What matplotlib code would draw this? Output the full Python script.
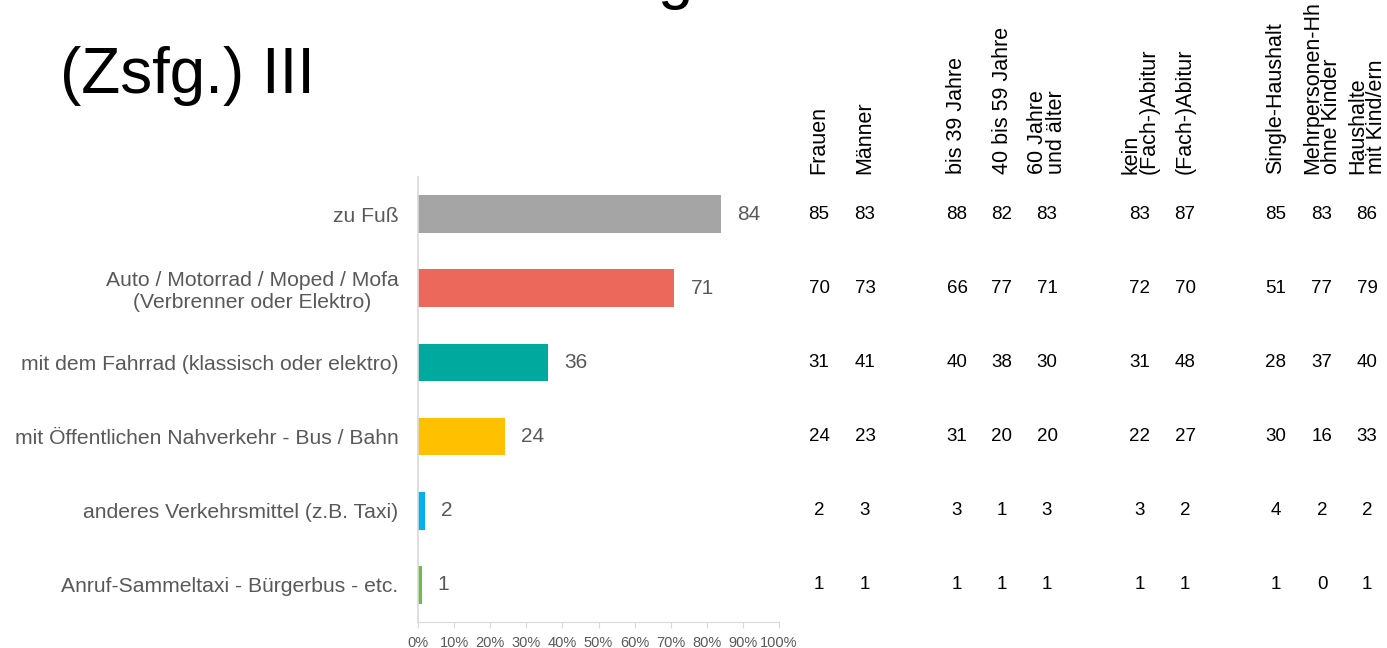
import matplotlib
matplotlib.use('Agg')
import matplotlib.pyplot as plt
import matplotlib.transforms as mtransforms

plt.rcParams['font.family'] = ['Liberation Sans', 'DejaVu Sans']

# Verkehrsmittel und Gesamtwerte in Prozent
categories = ['zu Fuß',
              'Auto / Motorrad / Moped / Mofa\n(Verbrenner oder Elektro)',
              'mit dem Fahrrad (klassisch oder elektro)',
              'mit Öffentlichen Nahverkehr - Bus / Bahn',
              'anderes Verkehrsmittel (z.B. Taxi)',
              'Anruf-Sammeltaxi - Bürgerbus - etc.']
total = [84, 71, 36, 24, 2, 1]
bar_colors = ['#A5A5A5', '#EB685B', '#00A99D', '#FFC000', '#00B0F0', '#6DBE45']

# Untergruppen (Spaltenköpfe) und ihre Werte je Verkehrsmittel
groups = ['Frauen', 'Männer',
          'bis 39 Jahre', '40 bis 59 Jahre', '60 Jahre\nund älter',
          'kein\n(Fach-)Abitur', '(Fach-)Abitur',
          'Single-Haushalt', 'Mehrpersonen-Hh\nohne Kinder', 'Haushalte\nmit Kind/ern']
frauen = [85, 70, 31, 24, 2, 1]
maenner = [83, 73, 41, 23, 3, 1]
bis39 = [88, 66, 40, 31, 3, 1]
bis59 = [82, 77, 38, 20, 1, 1]
ab60 = [83, 71, 30, 20, 3, 1]
kein_abi = [83, 72, 31, 22, 3, 1]
abi = [87, 70, 48, 27, 2, 1]
single = [85, 51, 28, 30, 4, 1]
mehr_ohne = [83, 77, 37, 16, 2, 0]
mit_kind = [86, 79, 40, 33, 2, 1]
group_values = [frauen, maenner, bis39, bis59, ab60,
                kein_abi, abi, single, mehr_ohne, mit_kind]
col_x = [819, 865, 957, 1002, 1047, 1140, 1185, 1276, 1322, 1367]

W, H = 1387, 648
fig = plt.figure(figsize=(W / 100, H / 100), dpi=100)
ax = fig.add_axes([418 / W, 1 - 622 / H, 361 / W, 445 / H])

ypos = list(range(len(categories)))
ax.barh(ypos, total, height=0.51, color=bar_colors)
ax.set_xlim(0, 100)
ax.set_ylim(len(categories) - 0.5, -0.5)

for y, v in zip(ypos, total):
    ax.text(v + 4.5, y, str(v), va='center', ha='left', fontsize=15, color='#595959')

ax.set_yticks(ypos)
ax.set_yticklabels(categories, fontsize=15.2, color='#595959', multialignment='center')
ax.tick_params(axis='y', length=0, pad=14)

ax.set_xticks(range(0, 101, 10))
ax.set_xticklabels([f'{t}%' for t in range(0, 101, 10)], fontsize=10.5, color='#595959')
ax.tick_params(axis='x', length=4, color='#D9D9D9', pad=6)

for side in ['top', 'right']:
    ax.spines[side].set_visible(False)
ax.spines['left'].set_color('#D9D9D9')
ax.spines['bottom'].set_color('#D9D9D9')
ax.spines['left'].set_linewidth(1.2)

# Tabelle rechts neben den Balken
trans = mtransforms.blended_transform_factory(fig.transFigure, ax.transData)
for x, name, vals in zip(col_x, groups, group_values):
    fig.text(x / W, 1 - 174 / H, name, rotation=90, ha='center', va='bottom',
             multialignment='left', fontsize=15.5, color='black', linespacing=0.85)
    for y, v in zip(ypos, vals):
        ax.text(x / W, y, str(v), transform=trans, ha='center', va='center',
                fontsize=13.5, color='black', clip_on=False)

# Titel
fig.text(60 / W, 1 - 93 / H, '(Zsfg.) III', fontsize=46, ha='left', va='baseline')
fig.text(657 / W, 1 + 3 / H, 'g', fontsize=46, ha='left', va='baseline')

fig.savefig('out.png', dpi=100)
